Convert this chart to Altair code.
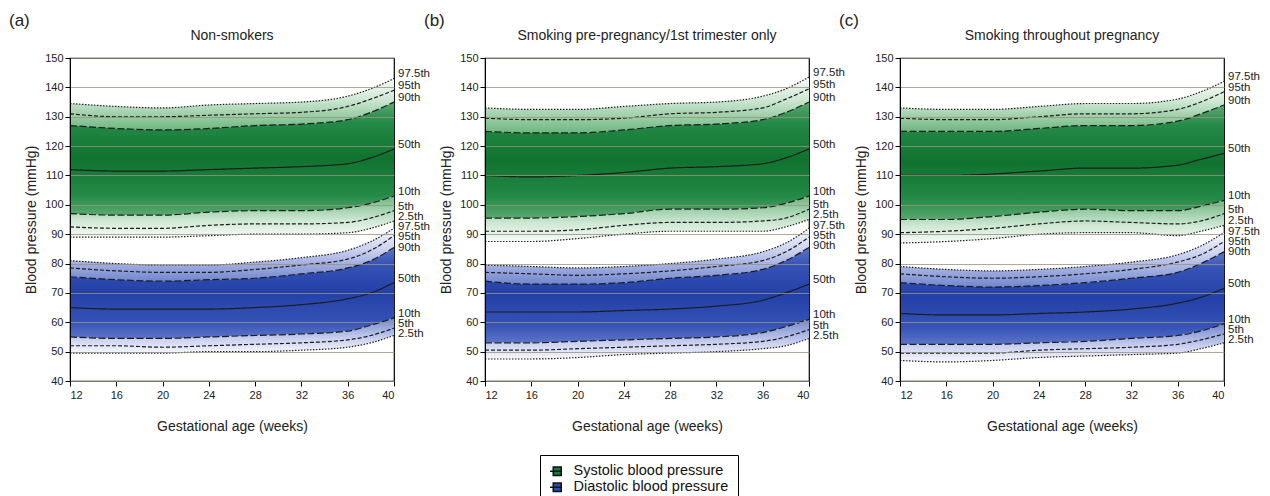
import altair as alt
import pandas as pd

weeks = [12, 16, 20, 24, 28, 32, 36, 38, 40]
pct_order = ["97.5th", "95th", "90th", "50th", "10th", "5th", "2.5th"]
pct_keys = ["p975", "p95", "p90", "p50", "p10", "p5", "p25"]
measures = ["Systolic blood pressure", "Diastolic blood pressure"]
panel_letters = ["(a)", "(b)", "(c)"]
panel_titles = ["Non-smokers", "Smoking pre-pregnancy/1st trimester only", "Smoking throughout pregnancy"]

# ---- (a) Non-smokers ----
a_sys_975 = [134.5, 133.5, 133.0, 134.0, 134.5, 135.0, 137.0, 139.5, 143.0]
a_sys_95 = [131.0, 130.0, 130.0, 130.5, 131.0, 131.5, 133.5, 136.0, 139.0]
a_sys_90 = [127.0, 126.0, 125.5, 126.0, 127.0, 127.5, 129.0, 131.5, 135.0]
a_sys_50 = [112.0, 111.5, 111.5, 112.0, 112.5, 113.0, 114.0, 116.0, 119.0]
a_sys_10 = [97.0, 96.5, 96.5, 97.5, 98.0, 98.0, 99.0, 100.5, 103.0]
a_sys_5 = [92.5, 92.0, 92.0, 93.0, 93.5, 93.5, 94.0, 95.5, 98.0]
a_sys_25 = [89.0, 89.0, 89.0, 89.5, 90.0, 90.0, 90.5, 92.0, 94.5]
a_dia_975 = [81.0, 80.0, 79.5, 79.5, 80.5, 82.0, 84.5, 87.5, 92.0]
a_dia_95 = [78.5, 77.5, 77.0, 77.0, 78.0, 79.5, 81.5, 84.5, 89.5]
a_dia_90 = [75.5, 74.5, 74.0, 74.5, 75.0, 76.5, 78.5, 81.0, 85.5]
a_dia_50 = [65.0, 64.5, 64.5, 64.5, 65.0, 66.0, 68.0, 70.0, 73.5]
a_dia_10 = [55.0, 54.5, 54.5, 55.0, 55.5, 56.0, 57.0, 59.0, 61.5]
a_dia_5 = [52.0, 52.0, 51.5, 52.0, 52.5, 53.0, 54.0, 55.5, 58.0]
a_dia_25 = [49.5, 49.5, 49.5, 50.0, 50.0, 50.5, 51.5, 53.0, 55.5]

# ---- (b) Smoking pre-pregnancy/1st trimester only ----
b_sys_975 = [133.0, 132.5, 132.5, 133.5, 134.5, 135.0, 137.0, 139.5, 143.5]
b_sys_95 = [129.5, 129.0, 129.0, 129.5, 131.0, 131.5, 133.0, 136.0, 139.5]
b_sys_90 = [125.0, 124.5, 124.5, 125.5, 127.0, 127.5, 129.0, 131.5, 135.0]
b_sys_50 = [110.0, 109.5, 110.0, 111.0, 112.5, 113.0, 114.0, 116.0, 119.0]
b_sys_10 = [95.5, 95.5, 96.0, 97.0, 98.5, 98.5, 99.0, 100.5, 103.0]
b_sys_5 = [91.0, 91.0, 91.5, 93.0, 94.0, 94.0, 94.5, 95.5, 98.5]
b_sys_25 = [87.5, 87.5, 88.5, 90.0, 91.0, 91.0, 91.0, 92.5, 95.0]
b_dia_975 = [79.5, 79.0, 78.5, 79.0, 80.0, 81.5, 84.0, 87.0, 92.0]
b_dia_95 = [77.0, 76.5, 76.0, 76.5, 77.5, 79.0, 81.0, 84.0, 89.0]
b_dia_90 = [74.0, 73.0, 73.0, 73.5, 75.0, 76.0, 78.0, 81.0, 85.5]
b_dia_50 = [63.5, 63.5, 63.5, 64.0, 64.5, 65.5, 67.5, 70.0, 73.0]
b_dia_10 = [53.0, 53.0, 53.5, 54.0, 54.5, 55.0, 56.5, 58.5, 61.0]
b_dia_5 = [50.5, 50.5, 51.0, 51.5, 52.0, 52.5, 53.5, 55.0, 57.5]
b_dia_25 = [47.5, 47.5, 48.0, 49.0, 49.5, 50.0, 51.0, 52.0, 54.5]

# ---- (c) Smoking throughout pregnancy ----
c_sys_975 = [133.0, 132.5, 132.5, 133.5, 134.5, 134.5, 136.0, 138.5, 142.0]
c_sys_95 = [129.5, 129.0, 129.0, 130.0, 131.0, 131.0, 132.5, 135.0, 138.5]
c_sys_90 = [125.0, 125.0, 125.0, 126.0, 127.0, 127.0, 128.5, 131.0, 134.0]
c_sys_50 = [110.0, 110.0, 110.5, 111.5, 112.5, 112.5, 113.5, 115.5, 117.5]
c_sys_10 = [95.0, 95.0, 96.0, 97.5, 98.5, 98.0, 98.0, 99.5, 101.5]
c_sys_5 = [90.5, 91.0, 92.0, 93.5, 94.5, 94.0, 93.5, 94.5, 97.0]
c_sys_25 = [87.0, 87.5, 88.5, 90.0, 90.5, 90.5, 89.5, 91.0, 93.0]
c_dia_975 = [79.0, 78.0, 77.5, 78.0, 79.0, 80.5, 83.0, 86.0, 90.5]
c_dia_95 = [76.5, 75.5, 75.0, 75.5, 76.5, 78.0, 80.5, 83.0, 87.5]
c_dia_90 = [73.5, 72.5, 72.0, 72.5, 73.5, 75.0, 77.0, 80.0, 84.0]
c_dia_50 = [63.0, 62.5, 62.5, 63.0, 63.5, 64.5, 66.5, 68.5, 71.5]
c_dia_10 = [52.5, 52.5, 52.5, 53.0, 53.5, 54.5, 55.5, 57.0, 59.5]
c_dia_5 = [49.5, 49.5, 49.5, 50.5, 51.0, 51.5, 52.5, 54.0, 56.0]
c_dia_25 = [47.0, 46.5, 47.0, 48.0, 48.5, 49.0, 49.5, 51.0, 53.0]

panels = [
    ([a_sys_975, a_sys_95, a_sys_90, a_sys_50, a_sys_10, a_sys_5, a_sys_25],
     [a_dia_975, a_dia_95, a_dia_90, a_dia_50, a_dia_10, a_dia_5, a_dia_25]),
    ([b_sys_975, b_sys_95, b_sys_90, b_sys_50, b_sys_10, b_sys_5, b_sys_25],
     [b_dia_975, b_dia_95, b_dia_90, b_dia_50, b_dia_10, b_dia_5, b_dia_25]),
    ([c_sys_975, c_sys_95, c_sys_90, c_sys_50, c_sys_10, c_sys_5, c_sys_25],
     [c_dia_975, c_dia_95, c_dia_90, c_dia_50, c_dia_10, c_dia_5, c_dia_25]),
]

GREEN = "#137a37"
BLUE = "#2a49b2"
FONT = "Liberation Sans"
W, H = 324, 323

# vertical gradient stops (top -> bottom) for each band, per measure
grad = {
    "Systolic blood pressure": {
        "upper": [("#f8fbf8", 0), ("#cfe8d4", 0.4), ("#6db77f", 1)],
        "inner": [("#5aa96f", 0), ("#248a48", 0.18), ("#10722f", 0.5), ("#248a48", 0.82), ("#5aa96f", 1)],
        "lower": [("#6db77f", 0), ("#cfe8d4", 0.6), ("#f6faf7", 1)],
    },
    "Diastolic blood pressure": {
        "upper": [("#f6f7fc", 0), ("#cbd1ef", 0.4), ("#7186cf", 1)],
        "inner": [("#5d74c6", 0), ("#3653b7", 0.18), ("#2240a7", 0.5), ("#3653b7", 0.82), ("#5d74c6", 1)],
        "lower": [("#7186cf", 0), ("#cbd1ef", 0.6), ("#f6f7fc", 1)],
    },
}
bands_def = [("upper", "p975", "p90"), ("inner", "p90", "p10"), ("lower", "p10", "p25")]

dash_map = {"97.5th": [1.5, 1.5], "95th": [4, 2], "90th": [7, 2.5], "50th": [1, 0],
            "10th": [7, 2.5], "5th": [4, 2], "2.5th": [1.5, 1.5]}

LEGEND_SYMBOL = "M-0.6,-0.85H1V0.85H-0.6Z M-1.25,0H1"


def build_frames(sys_lists, dia_lists):
    wide_rows, long_rows, end_rows = [], [], []
    for meas, lists in zip(measures, [sys_lists, dia_lists]):
        for i, wk in enumerate(weeks):
            row = {"week": wk, "measure": meas}
            for key, name, vals in zip(pct_keys, pct_order, lists):
                row[key] = vals[i]
                long_rows.append({"week": wk, "measure": meas, "pct": name,
                                  "key": meas + key, "value": vals[i]})
            wide_rows.append(row)
        for name, vals in zip(pct_order, lists):
            end_rows.append({"pct": name, "end": vals[-1], "week": weeks[-1]})
    # de-overlap the right-hand labels (computed from the line end values)
    end_rows.sort(key=lambda r: -r["end"])
    prev = None
    for r in end_rows:
        pos = r["end"] + 1.4
        if prev is not None and pos > prev - 3.5:
            pos = prev - 3.5
        r["pos"] = pos
        prev = pos
    return pd.DataFrame(wide_rows), pd.DataFrame(long_rows), pd.DataFrame(end_rows)


def make_panel(idx):
    sys_lists, dia_lists = panels[idx]
    wide, long, ends = build_frames(sys_lists, dia_lists)
    x = alt.X("week:Q", scale=alt.Scale(domain=[12, 40], nice=False),
              axis=alt.Axis(values=list(range(12, 41, 4)), grid=False, title="Gestational age (weeks)",
                            titlePadding=19, labelPadding=3))
    yscale = alt.Scale(domain=[40, 150], nice=False)
    yaxis = alt.Axis(values=list(range(40, 151, 10)), grid=True, title="Blood pressure (mmHg)",
                     titlePadding=6, zindex=1, gridColor="#9a927f", gridOpacity=0.8, gridWidth=1)
    layers = []
    for meas in measures:
        for band, hi, lo in bands_def:
            stops = [alt.GradientStop(color=c, offset=o) for c, o in grad[meas][band]]
            layers.append(
                alt.Chart(wide).transform_filter(alt.datum.measure == meas).mark_area(
                    interpolate="monotone",
                    color=alt.Gradient(gradient="linear", stops=stops, x1=0, x2=0, y1=0, y2=1)
                ).encode(x=x, y=alt.Y(f"{hi}:Q", scale=yscale, axis=yaxis), y2=alt.Y2(f"{lo}:Q"))
            )
    legend_layer = alt.Chart(wide).transform_filter("datum.week < 0").mark_point(
        filled=True, opacity=1, shape=LEGEND_SYMBOL, size=140, stroke="#111", strokeWidth=0.8
    ).encode(
        x=x, y=alt.Y("p50:Q", scale=yscale, axis=yaxis),
        color=alt.Color("measure:N", scale=alt.Scale(domain=measures, range=[GREEN, BLUE]),
                        legend=alt.Legend(title=None, orient="none", legendX=470, legendY=397,
                                          direction="vertical")))
    lines = alt.Chart(long).mark_line(interpolate="monotone", strokeWidth=1.2, color="#1c1c1c").encode(
        x=x, y=alt.Y("value:Q", scale=yscale, axis=yaxis), detail="key:N",
        strokeDash=alt.StrokeDash("pct:N", scale=alt.Scale(domain=pct_order,
                                  range=[dash_map[p] for p in pct_order]), legend=None))
    labels = alt.Chart(ends).mark_text(align="left", baseline="middle", dx=4, fontSize=11.5,
                                       font=FONT, color="#222").encode(
        x=x, y=alt.Y("pos:Q", scale=yscale, axis=yaxis), text="pct:N")
    letter = alt.Chart(pd.DataFrame({"t": [panel_letters[idx]]})).mark_text(
        align="left", baseline="middle", fontSize=17, font=FONT, color="#222").encode(
        x=alt.value(-61), y=alt.value(-37), text="t:N")
    title = alt.Chart(pd.DataFrame({"t": [panel_titles[idx]]})).mark_text(
        align="center", baseline="middle", fontSize=14, font=FONT, color="#222").encode(
        x=alt.value(W / 2), y=alt.value(-22), text="t:N")
    return alt.layer(*layers, legend_layer, lines, labels, letter, title).properties(width=W, height=H)


chart = alt.hconcat(make_panel(0), make_panel(1), make_panel(2), spacing=91, bounds="flush").properties(
    padding={"left": 0, "top": 3, "right": 0, "bottom": 0}
).configure_view(stroke="black", strokeWidth=1.2).configure_axis(
    domainColor="black", tickColor="black", tickSize=5, labelFont=FONT, titleFont=FONT,
    labelFontSize=11, titleFontSize=14, titleFontWeight="normal", labelColor="#222", titleColor="#222"
).configure_legend(
    strokeColor="black", padding=9, labelFont=FONT, labelFontSize=14.5, labelColor="#111",
    symbolOpacity=1, rowPadding=0, labelOffset=10, cornerRadius=0
)

chart.save("out.html", embed_options={"renderer": "svg", "actions": False})
